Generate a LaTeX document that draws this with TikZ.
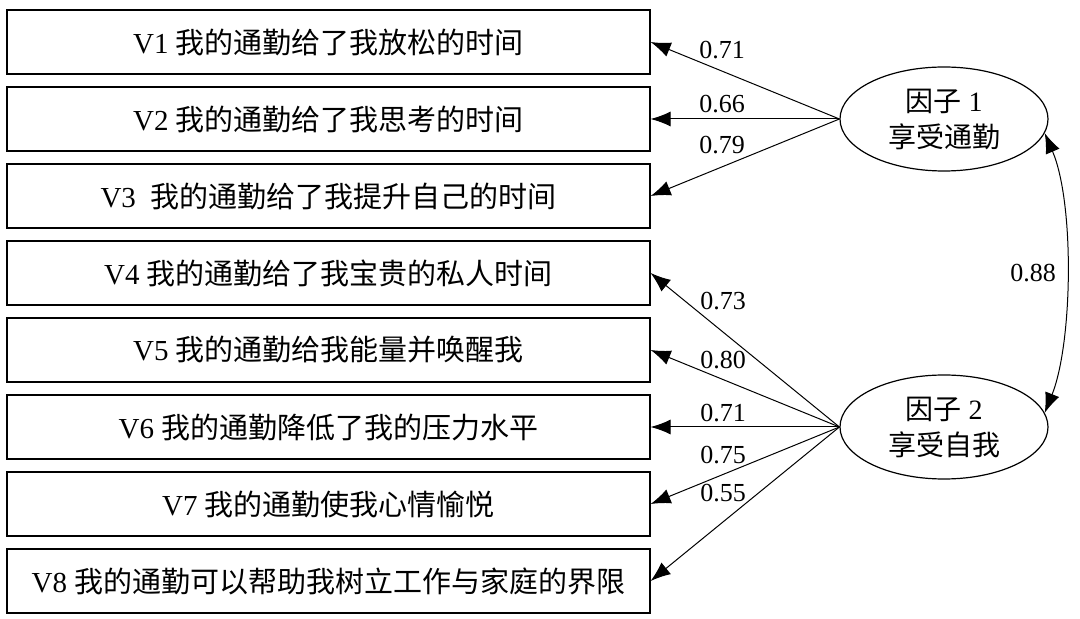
\documentclass[tikz,border=0pt]{standalone}
\usepackage{fontspec}
\setmainfont{Liberation Serif}
\newfontfamily\cjk{Noto Sans CJK SC}
\usetikzlibrary{arrows.meta,shapes.geometric}
\begin{document}
\begin{tikzpicture}[x=0.5pt,y=-0.5pt,
  question/.style={draw, line width=0.6pt, minimum width=321.5pt, minimum height=32pt, inner sep=0pt, font=\fontsize{14.5}{17}\selectfont},
  factor/.style={draw, ellipse, line width=0.6pt, minimum width=104pt, minimum height=52pt, inner sep=0pt, align=center, font=\fontsize{14}{18}\selectfont},
  load/.style={inner sep=0pt, font=\fontsize{13}{15}\selectfont},
  >={Latex[length=10pt,width=7.5pt]}]
\useasboundingbox (0,0) rectangle (1080,619);
\node[question] (v1) at (328.5,42) {V1 \cjk 我的通勤给了我放松的时间};
\node[question] (v2) at (328.5,119) {V2 \cjk 我的通勤给了我思考的时间};
\node[question] (v3) at (328.5,196) {V3\ \ \cjk 我的通勤给了我提升自己的时间};
\node[question] (v4) at (328.5,273) {V4 \cjk 我的通勤给了我宝贵的私人时间};
\node[question] (v5) at (328.5,350) {V5 \cjk 我的通勤给我能量并唤醒我};
\node[question] (v6) at (328.5,427) {V6 \cjk 我的通勤降低了我的压力水平};
\node[question] (v7) at (328.5,504) {V7 \cjk 我的通勤使我心情愉悦};
\node[question] (v8) at (328.5,581) {V8 \cjk 我的通勤可以帮助我树立工作与家庭的界限};
\node[factor] (f1) at (944,119) {{\cjk 因子} 1\\{\cjk 享受通勤}};
\node[factor] (f2) at (944,427) {{\cjk 因子} 2\\{\cjk 享受自我}};
%loadings
\node[load] (l1) at (722,50) {0.71};
\node[load] (l2) at (722,104) {0.66};
\node[load] (l3) at (722,145) {0.79};
\node[load] (l4) at (723,301) {0.73};
\node[load] (l5) at (723,360) {0.80};
\node[load] (l6) at (723,413) {0.71};
\node[load] (l7) at (723,455) {0.75};
\node[load] (l8) at (723,493) {0.55};
\node[load] (r) at (1033,273) {0.88};

\draw[->, line width=0.5pt] (f1.west)--(v1.east);
\draw[->, line width=0.5pt] (f1.west)--(v2.east);
\draw[->, line width=0.5pt] (f1.west)--(v3.east);
\draw[->, line width=0.5pt] (f2.west)--(v4.east);
\draw[->, line width=0.5pt] (f2.west)--(v5.east);
\draw[->, line width=0.5pt] (f2.west)--(v6.east);
\draw[->, line width=0.5pt] (f2.west)--(v7.east);
\draw[->, line width=0.5pt] (f2.west)--(v8.east);

\draw[<->, line width=0.5pt] (f1.-8) .. controls +(30,70) and +(28,-70) .. (f2.8);
\end{tikzpicture}
\end{document}
